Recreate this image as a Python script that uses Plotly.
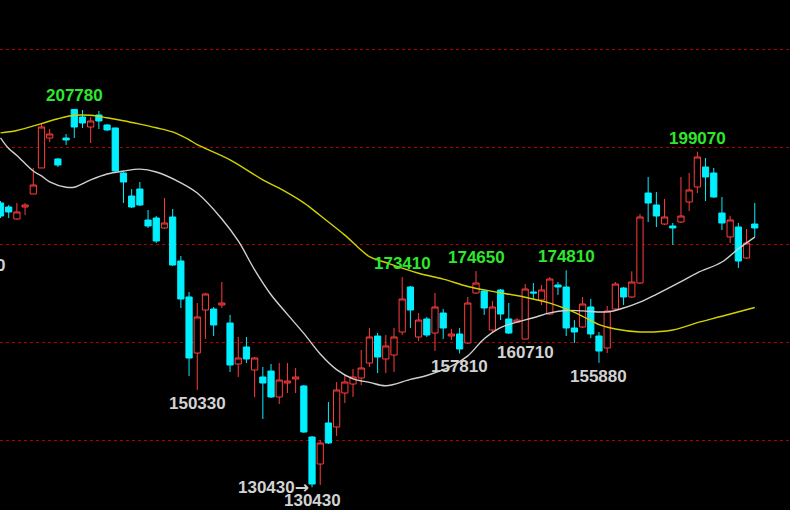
import plotly.graph_objects as go

# ---- candle data (index 0..92) ----
idx = list(range(93))
opens = [188570, 187750, 185300, 187750, 190410, 195730, 201860, 197570, 201860, 207700,
         206160, 204110, 206570, 204520, 203910, 194700, 190000, 191430, 185090, 185500,
         183460, 185710, 176710, 169350, 157890, 166690, 166890, 167710, 164030, 155640,
         159120, 154420, 152990, 154210, 148900, 151760, 152580, 151150, 140720, 135190,
         143580, 142760, 149710, 151550, 152780, 155850, 161370, 156670, 157480, 162190,
         171390, 161170, 164850, 161980, 166070, 161370, 161780, 159940, 170160, 170570,
         162600, 170780, 164850, 164230, 160750, 170370, 168730, 165870, 171800, 171390,
         163010, 163210, 167300, 161370, 158920, 166890, 171190, 169350, 172210, 190610,
         188160, 184270, 183870, 184680, 188770, 191840, 195930, 194700, 186520, 181620,
         183660, 177320, 184270]
highs = [188980, 188160, 188570, 188570, 195730, 204930, 203700, 197770, 202680, 207780,
         207590, 206160, 207380, 204720, 204000, 194900, 191430, 192860, 187140, 185910,
         189590, 187340, 177730, 170370, 168120, 170160, 167300, 172410, 165670, 161170,
         161170, 157080, 155030, 155640, 155850, 155850, 154830, 151350, 140920, 140100,
         147870, 151960, 153400, 154620, 158510, 163010, 161980, 161580, 163010, 173410,
         171600, 166070, 165260, 170160, 166890, 162800, 163010, 169350, 174650, 170780,
         168530, 170980, 168120, 165050, 172000, 172210, 171800, 173440, 172410, 174810,
         164640, 169350, 168940, 162190, 167510, 172410, 171390, 174600, 186320, 193890,
         190820, 189390, 184480, 193890, 194700, 199070, 197770, 195730, 189800, 185910,
         184480, 183250, 188570]
lows = [185500, 185500, 185090, 186110, 190410, 195730, 201040, 195930, 200430, 201860,
        203910, 200840, 203700, 203290, 194910, 188570, 187550, 187960, 183460, 180390,
        183250, 175690, 167100, 153190, 150330, 160760, 161370, 167100, 154010, 152990,
        155850, 148900, 144400, 148690, 147460, 149710, 149710, 141530, 130430, 130900,
        139280, 140920, 147670, 148900, 151350, 155030, 153800, 153800, 154010, 161580,
        163010, 160350, 161170, 158300, 160760, 160550, 157810, 159730, 169960, 165670,
        161980, 164640, 161780, 164030, 160710, 168940, 167710, 165670, 169760, 161370,
        159940, 163010, 160960, 155880, 157890, 166690, 167710, 169140, 172000, 184680,
        183660, 184070, 179980, 184480, 186930, 190610, 188980, 189590, 183050, 180390,
        175280, 177120, 181620]
closes = [185910, 186730, 186730, 188160, 192250, 204110, 202680, 196340, 201450, 204110,
          204930, 205340, 205340, 203500, 195110, 192860, 187750, 188160, 183870, 180800,
          184480, 175890, 168940, 156870, 165260, 169960, 163620, 168120, 155440, 156870,
          156670, 156870, 151760, 148900, 152370, 152170, 152990, 141740, 131100, 139490,
          139490, 150330, 151960, 152990, 154830, 161170, 157080, 159330, 161170, 168940,
          166690, 164640, 161580, 167300, 163010, 161780, 158710, 168120, 172210, 167100,
          167300, 165870, 161980, 164640, 170980, 170160, 170780, 173030, 171390, 163010,
          162190, 167910, 161780, 158300, 166480, 172000, 169350, 172410, 185710, 188570,
          185910, 185710, 183460, 185910, 191230, 197980, 193890, 189800, 184480, 185090,
          176710, 180390, 183460]

# ---- moving averages (candle index: value) ----
ma_short_idx = [0, 1, 2, 4, 5, 6, 8, 9, 11, 13, 15, 17, 19, 22, 24, 27, 29, 31, 33, 35,
                37, 39, 41, 43, 45, 47, 50, 52, 55, 57, 59, 61, 63, 65, 67, 69, 71, 74,
                76, 78, 80, 83, 85, 88, 90, 92]
ma_short = [201900, 199700, 198300, 195100, 194100, 192900, 191800, 191800, 193300, 194500,
            195100, 195500, 194900, 192700, 190600, 185300, 180800, 174900, 169800, 165800,
            161900, 157700, 154500, 152600, 151900, 151200, 152500, 153300, 155200, 157300,
            160800, 163100, 164200, 165100, 166100, 166600, 166500, 166300, 167100, 168300,
            169900, 172500, 174300, 176500, 179200, 181600]
ma_long_idx = [0, 2, 5, 7, 9, 11, 13, 15, 17, 19, 21, 23, 24, 28, 32, 34, 37, 39, 42, 45,
               47, 51, 54, 57, 60, 64, 67, 69, 71, 73, 75, 78, 82, 85, 88, 92]
ma_long = [202900, 203400, 204800, 205800, 206500, 206500, 206000, 205400, 204700, 203950,
           203100, 201500, 200500, 197400, 193300, 191600, 188600, 186000, 182000, 177600,
           176400, 174200, 173000, 171500, 170500, 169300, 168100, 166900, 165400, 163700,
           162800, 162200, 162600, 164100, 165400, 167200]

# ---- labels ----
high_label_idx = [9, 49, 58, 69, 85]
low_label_idx = [24, 56, 64, 73, 38]
arrow_label_idx = 38
edge_label_text = "0"
edge_label_value = 175890

RED = "#ff3c3c"
CYAN = "#00f0ff"
GREEN = "#2de82d"
GRAY = "#d2d2d2"
FONT = "Liberation Sans"

fig = go.Figure()
fig.add_trace(go.Candlestick(
    x=idx, open=opens, high=highs, low=lows, close=closes,
    increasing=dict(line=dict(color=RED, width=1), fillcolor="black"),
    decreasing=dict(line=dict(color=CYAN, width=1), fillcolor=CYAN),
    hoverinfo="skip", showlegend=False,
))
fig.add_trace(go.Scatter(x=ma_short_idx, y=ma_short, mode="lines", line=dict(color="#d0d0d0", width=1.4, shape="spline"),
                         hoverinfo="skip", showlegend=False))
fig.add_trace(go.Scatter(x=ma_long_idx, y=ma_long, mode="lines", line=dict(color="#d2d200", width=1.4, shape="spline"),
                         hoverinfo="skip", showlegend=False))

ann = []
for i in high_label_idx:
    ann.append(dict(x=i, y=highs[i], xref="x", yref="y", text=str(highs[i]), showarrow=False,
                    yanchor="bottom", yshift=2, font=dict(family=FONT, size=17, color=GREEN, weight="bold")))
for i in low_label_idx:
    ann.append(dict(x=i, y=lows[i], xref="x", yref="y", text=str(lows[i]), showarrow=False,
                    yanchor="top", yshift=-2, font=dict(family=FONT, size=17, color=GRAY, weight="bold")))
ann.append(dict(x=arrow_label_idx, y=lows[arrow_label_idx], xref="x", yref="y",
                text=str(lows[arrow_label_idx]) + "<span style='font-family:DejaVu Sans'>\u2192</span>",
                showarrow=False, xanchor="right", yanchor="middle", xshift=-1,
                font=dict(family=FONT, size=17, color=GRAY, weight="bold")))
ann.append(dict(x=0, y=edge_label_value, xref="paper", yref="y", text=edge_label_text, showarrow=False,
                xanchor="center", yanchor="middle",
                font=dict(family=FONT, size=17, color=GRAY, weight="bold")))

fig.update_layout(
    width=790, height=510,
    margin=dict(l=0, r=0, t=0, b=0),
    paper_bgcolor="black", plot_bgcolor="black",
    boxgap=0.2, boxgroupgap=0.05,
    annotations=ann,
    xaxis=dict(range=[-0.06, 96.3], showgrid=False, zeroline=False, showticklabels=False,
               rangeslider=dict(visible=False), fixedrange=True),
    yaxis=dict(range=[125790, 230080], showgrid=True, gridcolor="#b00000", griddash="dot",
               gridwidth=1, tick0=0, dtick=20000, zeroline=False, showticklabels=False, fixedrange=True),
    hovermode=False,
)

fig.write_html(
    "out.html",
    config={"displayModeBar": False, "staticPlot": True},
    post_script="document.body.style.margin='0';document.body.style.overflow='hidden';"
                "document.body.style.background='black';",
)
